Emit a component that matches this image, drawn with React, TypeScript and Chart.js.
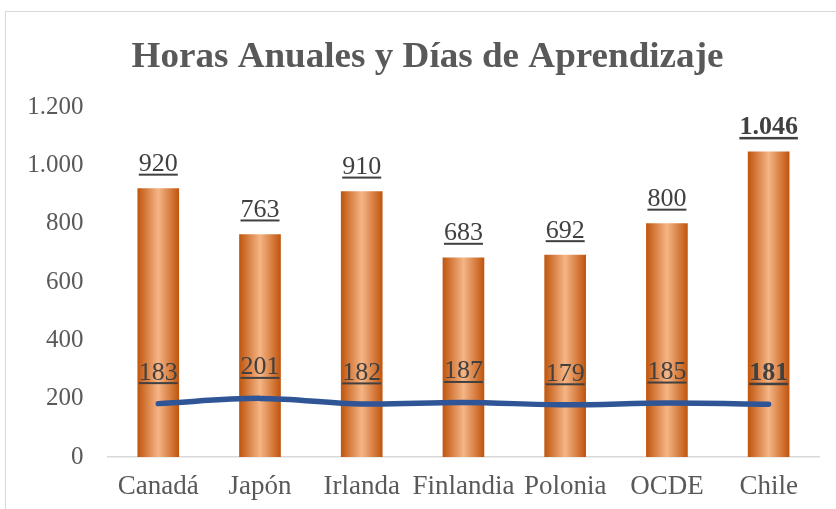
import React, { useEffect, useRef } from "react";
import { Chart, registerables } from "chart.js";

Chart.register(...registerables);

const categories = ["Canadá", "Japón", "Irlanda", "Finlandia", "Polonia", "OCDE", "Chile"];
const horasAnuales = [920, 763, 910, 683, 692, 800, 1046];
const diasAprendizaje = [183, 201, 182, 187, 179, 185, 181];
const yTicksMax = 1200;
const yTicksStep = 200;
const titleText = "Horas Anuales y Días de Aprendizaje";

const SERIF = "'Liberation Serif', 'Times New Roman', serif";
const BAR_W = 41;

const fmt = (v: number) => {
  const s = Math.round(v).toString();
  return s.replace(/\B(?=(\d{3})+(?!\d))/g, ".");
};

const titlePlugin = {
  id: "customTitle",
  afterDraw(chart: any) {
    const c = chart.ctx;
    c.save();
    c.font = `bold 35px ${SERIF}`;
    c.fillStyle = "#595959";
    c.textAlign = "center";
    c.textBaseline = "alphabetic";
    c.translate(427.5, 66.5);
    c.scale(1.06, 1);
    c.fillText(titleText, 0, 0);
    c.restore();
  },
};

const labelPlugin = {
  id: "underlinedLabels",
  afterDatasetsDraw(chart: any) {
    const c = chart.ctx;
    chart.data.datasets.forEach((ds: any, di: number) => {
      const meta = chart.getDatasetMeta(di);
      const offset = ds.type === "line" ? 24 : 17.5;
      meta.data.forEach((el: any, i: number) => {
        const bold = i === categories.length - 1;
        const txt = fmt(ds.data[i]);
        c.save();
        c.font = `${bold ? "bold " : ""}26px ${SERIF}`;
        c.fillStyle = "#404040";
        c.textAlign = "center";
        c.textBaseline = "alphabetic";
        const y = el.y - offset;
        c.fillText(txt, el.x, y);
        const w = c.measureText(txt).width;
        c.fillRect(el.x - w / 2, y + 2.5, w, bold ? 2.5 : 2);
        c.restore();
      });
    });
  },
};

export default function App() {
  const ref = useRef<HTMLCanvasElement | null>(null);

  useEffect(() => {
    if (!ref.current) return;
    const chart = new Chart(ref.current, {
      type: "bar",
      data: {
        labels: categories,
        datasets: [
          {
            type: "line",
            label: "Días",
            data: diasAprendizaje,
            borderColor: "#2f5597",
            borderWidth: 5.5,
            pointRadius: 0,
            tension: 0.35,
            borderCapStyle: "round",
            order: 0,
          } as any,
          {
            type: "bar",
            label: "Horas",
            data: horasAnuales,
            barThickness: BAR_W,
            order: 1,
            backgroundColor: (ctx: any) => {
              const chart = ctx.chart;
              if (!chart.chartArea || ctx.dataIndex === undefined) return "#c55a11";
              const x = chart.scales.x.getPixelForValue(ctx.dataIndex);
              const g = chart.ctx.createLinearGradient(x - BAR_W / 2, 0, x + BAR_W / 2, 0);
              g.addColorStop(0, "#c0560f");
              g.addColorStop(0.5, "#f5b585");
              g.addColorStop(1, "#c0560f");
              return g;
            },
          } as any,
        ],
      },
      options: {
        animation: false,
        responsive: false,
        layout: { padding: { left: 0, top: 107, right: 16.5, bottom: 0 } },
        plugins: {
          legend: { display: false },
          tooltip: { enabled: false },
          title: { display: false },
        },
        scales: {
          x: {
            grid: { display: false, drawTicks: false },
            border: { display: true, color: "#d9d9d9", width: 1.5 },
            ticks: {
              color: "#595959",
              font: { family: SERIF, size: 27 },
              padding: 14,
              maxRotation: 0,
              autoSkip: false,
            },
            afterFit: (s: any) => {
              s.height = 52;
            },
          },
          y: {
            min: 0,
            max: yTicksMax,
            grid: { display: false, drawTicks: false },
            border: { display: false },
            ticks: {
              stepSize: yTicksStep,
              color: "#595959",
              font: { family: SERIF, size: 25 },
              padding: 24,
              callback: (v: any) => fmt(Number(v)),
            },
            afterFit: (s: any) => {
              s.width = 107.4;
            },
          },
        },
      },
      plugins: [titlePlugin, labelPlugin],
    });
    return () => chart.destroy();
  }, []);

  return (
    <div
      style={{
        position: "fixed",
        left: 0,
        top: 0,
        width: 836,
        height: 509,
        overflow: "hidden",
        background: "#ffffff",
      }}
    >
      <div
        style={{
          position: "absolute",
          left: 5,
          top: 11,
          width: 1000,
          height: 1000,
          border: "1px solid #d9d9d9",
        }}
      />
      <canvas
        ref={ref}
        width={836}
        height={509}
        style={{ position: "absolute", left: 0, top: 0, width: 836, height: 509 }}
      />
    </div>
  );
}
